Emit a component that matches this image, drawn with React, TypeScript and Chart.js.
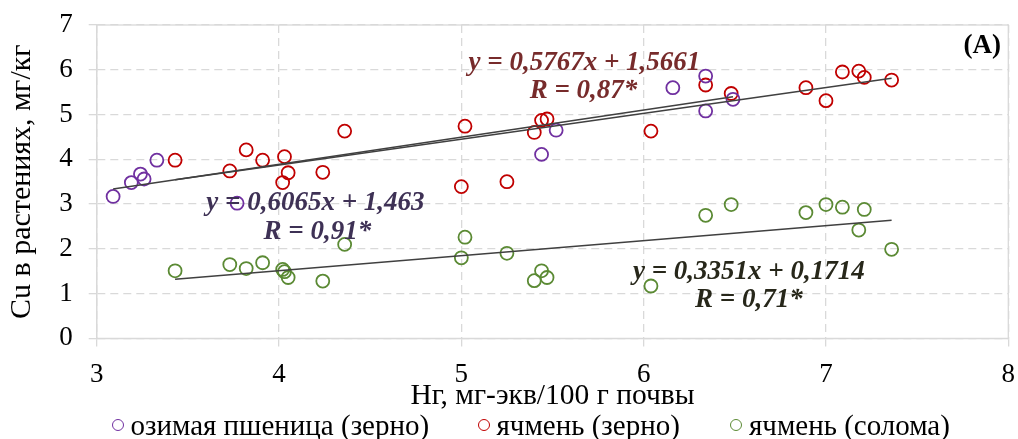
import React, { useEffect, useRef } from 'react';
import { Chart, registerables } from 'chart.js';

Chart.register(...registerables);

// ---- data ----
const seriesNames = ['озимая пшеница (зерно)', 'ячмень (зерно)', 'ячмень (солома)'];
const xWheat = [3.09, 3.19, 3.24, 3.26, 3.33, 3.77, 5.44, 5.52, 6.16, 6.34, 6.34, 6.49];
const yWheat = [3.17, 3.48, 3.67, 3.56, 3.98, 3.02, 4.11, 4.65, 5.6, 5.86, 5.08, 5.34];
const xBarley = [3.43, 3.73, 3.82, 3.91, 4.02, 4.03, 4.05, 4.24, 4.36, 5.0, 5.02, 5.25, 5.4, 5.44, 5.47, 6.04, 6.34, 6.48, 6.89, 7.0, 7.09, 7.18, 7.21, 7.36];
const yBarleyGrain = [3.98, 3.74, 4.21, 3.98, 3.48, 4.06, 3.7, 3.71, 4.63, 3.39, 4.74, 3.5, 4.6, 4.87, 4.9, 4.63, 5.66, 5.47, 5.6, 5.31, 5.95, 5.97, 5.83, 5.77];
const yBarleyStraw = [1.51, 1.65, 1.56, 1.69, 1.54, 1.49, 1.36, 1.28, 2.1, 1.8, 2.26, 1.9, 1.29, 1.51, 1.36, 1.17, 2.75, 2.99, 2.81, 2.99, 2.93, 2.42, 2.88, 1.99];
const trendSlopes = [0.6065, 0.5767, 0.3351];
const trendIntercepts = [1.463, 1.5661, 0.1714];
const equationTexts = ['y = 0,6065x + 1,463', 'y = 0,5767x + 1,5661', 'y = 0,3351x + 0,1714'];
const rTexts = ['R = 0,91*', 'R = 0,87*', 'R = 0,71*'];
const panelLabel = '(A)';
const xTicks = [3, 4, 5, 6, 7, 8];
const yTicks = [0, 1, 2, 3, 4, 5, 6, 7];

// ---- styles ----
const markerColors = ['#7030a0', '#c00000', '#5b8a34'];
const eqColors = ['#3e3155', '#772b2b', '#27271a'];
const FONT = "'Liberation Serif', 'Times New Roman', serif";
// equation label anchors in data units (x, y) : [equation, R]
const eqAnchors = [
  [[4.2, 3.02], [4.21, 2.375]],
  [[5.675, 6.15], [5.67, 5.52]],
  [[6.577, 1.48], [6.577, 0.86]],
];
const panelAnchor = [7.857, 6.53];
const legendLeft = [111.5, 477.5, 730];

const xsFor = [xWheat, xBarley, xBarley];
const ysFor = [yWheat, yBarleyGrain, yBarleyStraw];

const annotationPlugin = {
  id: 'eqLabels',
  afterDatasetsDraw(chart: any) {
    const { ctx, scales } = chart;
    const xs = scales.x;
    const ys = scales.y;
    ctx.save();
    ctx.textAlign = 'center';
    ctx.textBaseline = 'middle';
    ctx.font = `italic bold 27px ${FONT}`;
    for (let i = 0; i < 3; i++) {
      ctx.fillStyle = eqColors[i];
      const [e, r] = eqAnchors[i];
      ctx.fillText(equationTexts[i], xs.getPixelForValue(e[0]), ys.getPixelForValue(e[1]));
      ctx.fillText(rTexts[i], xs.getPixelForValue(r[0]), ys.getPixelForValue(r[1]));
    }
    ctx.font = `bold 27px ${FONT}`;
    ctx.fillStyle = '#000';
    ctx.fillText(panelLabel, xs.getPixelForValue(panelAnchor[0]), ys.getPixelForValue(panelAnchor[1]));
    ctx.restore();
  },
};

const borderPlugin = {
  id: 'plotBorder',
  beforeDatasetsDraw(chart: any) {
    const { ctx, chartArea } = chart;
    ctx.save();
    ctx.strokeStyle = '#d9d9d9';
    ctx.lineWidth = 1.3;
    ctx.setLineDash([]);
    ctx.strokeRect(chartArea.left, chartArea.top, chartArea.right - chartArea.left, chartArea.bottom - chartArea.top);
    ctx.restore();
  },
};

export default function App() {
  const canvasRef = useRef<HTMLCanvasElement | null>(null);

  useEffect(() => {
    const canvas = canvasRef.current;
    if (!canvas) return;
    const scatterSets = seriesNames.map((name, i) => ({
      type: 'scatter' as const,
      label: name,
      data: xsFor[i].map((x, j) => ({ x, y: ysFor[i][j] })),
      pointStyle: 'circle',
      pointRadius: 6.5,
      pointHoverRadius: 6.5,
      pointBorderWidth: 1.8,
      borderColor: markerColors[i],
      backgroundColor: 'rgba(0,0,0,0)',
      borderWidth: 1.8,
      showLine: false,
      order: 1,
    }));
    const trendSets = seriesNames.map((name, i) => {
      const xmin = Math.min(...xsFor[i]);
      const xmax = Math.max(...xsFor[i]);
      return {
        type: 'scatter' as const,
        label: 'trend ' + name,
        data: [
          { x: xmin, y: trendSlopes[i] * xmin + trendIntercepts[i] },
          { x: xmax, y: trendSlopes[i] * xmax + trendIntercepts[i] },
        ],
        showLine: true,
        borderColor: '#404040',
        borderWidth: 1.6,
        pointRadius: 0,
        backgroundColor: '#404040',
        order: 0,
      };
    });

    const chart = new Chart(canvas, {
      type: 'scatter',
      data: { datasets: [...scatterSets, ...trendSets] as any },
      options: {
        animation: false,
        responsive: false,
        maintainAspectRatio: false,
        layout: { padding: { left: 0, right: 0, top: 25, bottom: 0 } },
        plugins: {
          legend: { display: false },
          tooltip: { enabled: false },
        },
        scales: {
          x: {
            type: 'linear',
            min: 3,
            max: 8,
            afterBuildTicks: (s: any) => { s.ticks = xTicks.map((v) => ({ value: v })); },
            afterFit: (s: any) => {
              s.height = 100.6;
              s.paddingLeft = 0;
              s.paddingRight = 9.7;
            },
            ticks: { font: { family: FONT, size: 27 }, color: '#000', padding: 12 },
            grid: { color: '#d9d9d9', lineWidth: 1.3, tickLength: 8 },
            border: { display: true, color: '#d9d9d9', width: 1.3, dash: [8, 5] },
            title: {
              display: true,
              text: 'Нг, мг-экв/100 г почвы',
              font: { family: FONT, size: 29.5 },
              color: '#000',
              padding: { top: 0, bottom: 25 },
            },
          },
          y: {
            type: 'linear',
            min: 0,
            max: 7,
            afterBuildTicks: (s: any) => { s.ticks = yTicks.map((v) => ({ value: v })); },
            afterFit: (s: any) => {
              s.width = 96.7;
              s.paddingTop = 0;
              s.paddingBottom = 0;
            },
            ticks: { font: { family: FONT, size: 27 }, color: '#000', padding: 16 },
            grid: { color: '#d9d9d9', lineWidth: 1.3, tickLength: 8 },
            border: { display: true, color: '#d9d9d9', width: 1.3, dash: [8, 5] },
            title: {
              display: true,
              text: 'Cu в растениях, мг/кг',
              font: { family: FONT, size: 30 },
              color: '#000',
              padding: { top: 4, bottom: 0 },
            },
          },
        },
      } as any,
      plugins: [borderPlugin, annotationPlugin],
    });
    return () => chart.destroy();
  }, []);

  return (
    <div style={{ position: 'fixed', left: 0, top: 0, width: 1018, height: 439, background: '#fff', overflow: 'hidden' }}>
      <canvas ref={canvasRef} width={1018} height={439} style={{ display: 'block' }} />
      {seriesNames.map((name, i) => (
        <div
          key={name}
          style={{
            position: 'absolute',
            left: legendLeft[i],
            top: 408.5,
            height: 32,
            display: 'flex',
            alignItems: 'center',
            fontFamily: FONT,
            fontSize: 29,
            lineHeight: '32px',
            color: '#000',
            whiteSpace: 'nowrap',
          }}
        >
          <span
            style={{
              display: 'inline-block',
              width: 10,
              height: 10,
              borderRadius: '50%',
              border: `1.8px solid ${markerColors[i]}`,
              marginRight: 7,
              flex: 'none',
            }}
          />
          <span>{name}</span>
        </div>
      ))}
    </div>
  );
}
